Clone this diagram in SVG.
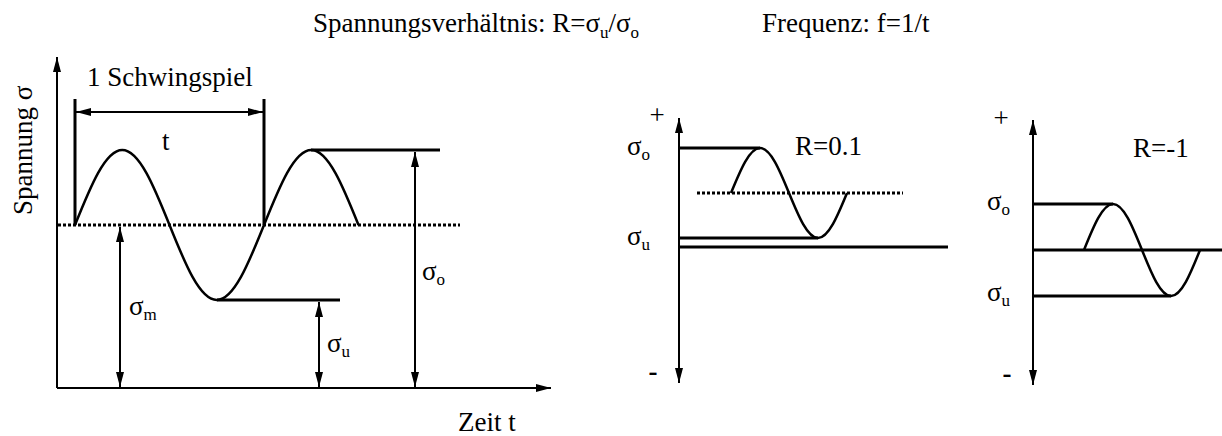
<svg xmlns="http://www.w3.org/2000/svg" width="1222" height="436" viewBox="0 0 1222 436">
<style>
text{font-family:"Liberation Serif","Times New Roman","DejaVu Serif",serif;font-size:27px;fill:#000}
.sub{font-size:17px}
.ln{stroke:#000;stroke-width:2;fill:none}
.thk{stroke:#000;stroke-width:3;fill:none}
.crv{stroke:#000;stroke-width:2.5;fill:none}
.dot{stroke:#000;stroke-width:3;stroke-dasharray:3 2;fill:none}
.ar{marker-end:url(#ah)}
.ar2{marker-start:url(#ah);marker-end:url(#ah)}
</style>
<defs>
<marker id="ah" viewBox="0 0 15 8" refX="15" refY="4" markerWidth="15" markerHeight="8" markerUnits="userSpaceOnUse" orient="auto-start-reverse">
<path d="M0,0 L15,4 L0,8 z" fill="#000"/>
</marker>
</defs>
<g font-family="Liberation Serif, Times New Roman, serif">
<g id="header">
<text x="313" y="32">Spannungsverhältnis: R=σ<tspan class="sub" dy="6">u</tspan><tspan dy="-6">/σ</tspan><tspan class="sub" dy="6">o</tspan></text>
<text x="762" y="32">Frequenz: f=1/t</text>
</g>
<g id="chart-main">
<path class="ln ar" d="M57,388 V57"/>
<path class="ln ar" d="M57,388 H551"/>
<path class="dot" d="M58,225 H460"/>
<path class="thk" d="M75,99 V225 M264,99 V225"/>
<path class="thk" d="M311,150 H440 M217,300 H340"/>
<path class="crv" d="M75,225 C90.41,186.58 105.23,150 122.25,150 C139.27,150 154.09,186.58 169.5,225 C184.91,263.42 199.73,300 216.75,300 C233.77,300 248.59,263.42 264,225 C279.41,186.58 294.23,150 311.25,150 C328.27,150 343.09,186.58 358.5,225"/>
<text transform="translate(32,215) rotate(-90)">Spannung σ</text>
<text x="87" y="86">1 Schwingspiel</text>
<text x="162" y="150">t</text>
<text x="129" y="315">σ<tspan class="sub" dy="5">m</tspan></text>
<text x="327" y="352">σ<tspan class="sub" dy="5">u</tspan></text>
<text x="422" y="280">σ<tspan class="sub" dy="5">o</tspan></text>
<text x="458" y="431">Zeit t</text>
</g>
<g id="connectors">
<path class="ln ar2" d="M76,112 H263"/>
<path class="ln ar2" d="M120,227 V387"/>
<path class="ln ar2" d="M319,302 V387"/>
<path class="ln ar2" d="M415,152 V387"/>
<path class="ln ar2" d="M679,118 V383"/>
<path class="ln ar2" d="M1033,120 V385"/>
</g>
<g id="chart-r01">
<path class="thk" d="M679,148 H760 M679,238 H818 M679,247 H948"/>
<path class="dot" d="M697,193 H903"/>
<path class="crv" d="M731,193 C740.46,169.95 749.55,148 760,148 C770.45,148 779.54,169.95 789,193 C798.46,216.05 807.55,238 818,238 C828.45,238 837.54,216.05 847,193"/>
<text x="657" y="124" text-anchor="middle">+</text>
<text x="653" y="380" text-anchor="middle" font-weight="bold">-</text>
<text x="627" y="155">σ<tspan class="sub" dy="5">o</tspan></text>
<text x="627" y="245">σ<tspan class="sub" dy="5">u</tspan></text>
<text x="795" y="155">R=0.1</text>
</g>
<g id="chart-r-1">
<path class="thk" d="M1033,204 H1113 M1033,296 H1171 M1033,250 H1222"/>
<path class="crv" d="M1084,250 C1093.46,226.43 1102.55,204 1113,204 C1123.45,204 1132.54,226.43 1142,250 C1151.46,273.57 1160.55,296 1171,296 C1181.45,296 1190.54,273.57 1200,250"/>
<text x="1001" y="127" text-anchor="middle">+</text>
<text x="1007" y="382" text-anchor="middle" font-weight="bold">-</text>
<text x="987" y="210">σ<tspan class="sub" dy="5">o</tspan></text>
<text x="987" y="301">σ<tspan class="sub" dy="5">u</tspan></text>
<text x="1133" y="157">R=-1</text>
</g>
</g>
</svg>
